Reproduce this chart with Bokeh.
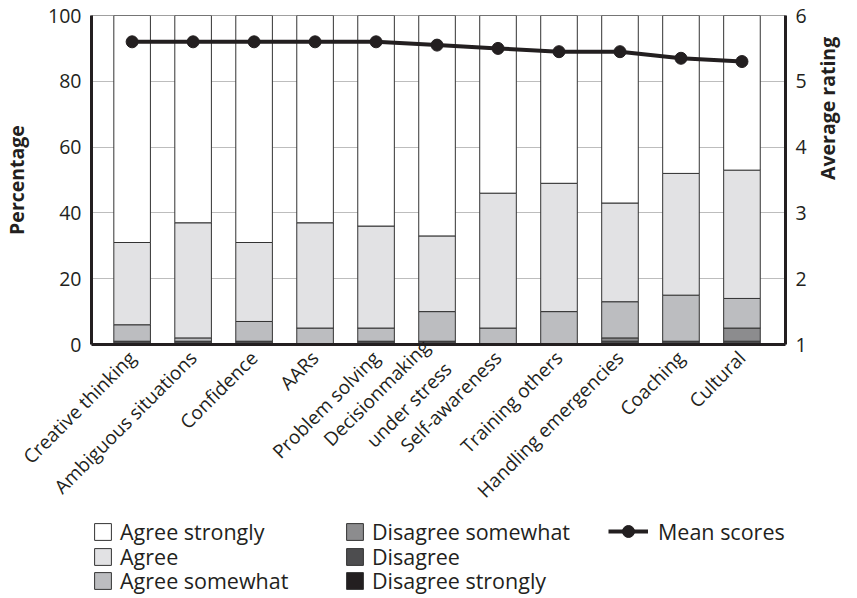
import math
from bokeh.plotting import figure
from bokeh.layouts import column
from bokeh.models import (Range1d, LinearAxis, FixedTicker, Legend, LegendItem,
                          ColumnDataSource)
from bokeh.embed import file_html
from bokeh.resources import INLINE

categories = ["Creative thinking", "Ambiguous situations", "Confidence", "AARs",
              "Problem solving", "Decisionmaking\nunder stress", "Self-awareness",
              "Training others", "Handling emergencies", "Coaching", "Cultural"]
disagree_strongly = [0, 0, 0, 0, 0, 0, 0, 0, 0, 0, 0]
disagree = [1, 1, 1, 0, 1, 1, 0, 0, 1, 1, 1]
disagree_somewhat = [0, 0, 0, 0, 0, 0, 0, 0, 1, 0, 4]
agree_somewhat = [5, 1, 6, 5, 4, 9, 5, 10, 11, 14, 9]
agree = [25, 35, 24, 32, 31, 23, 41, 39, 30, 37, 39]
agree_strongly = [69, 63, 69, 63, 64, 67, 54, 51, 57, 48, 47]
mean_scores = [5.6, 5.6, 5.6, 5.6, 5.6, 5.55, 5.5, 5.45, 5.45, 5.35, 5.3]

series_names = ["Disagree strongly", "Disagree", "Disagree somewhat",
                "Agree somewhat", "Agree", "Agree strongly"]
series_keys = ["ds", "d", "dsw", "asw", "a", "as_"]
series_colors = ["#231f20", "#4d4d4f", "#8c8c8e", "#bcbdc0", "#e2e2e4", "#ffffff"]
pct_ticks = [0, 20, 40, 60, 80, 100]
rating_ticks = [1, 2, 3, 4, 5, 6]

FONT = "Open Sans"
INK = "#231f20"
W = 857
H_MAIN = 515
H_LEG = 598 - H_MAIN

xs = list(range(len(categories)))
src = ColumnDataSource(dict(x=xs, ds=disagree_strongly, d=disagree,
                            dsw=disagree_somewhat, asw=agree_somewhat,
                            a=agree, as_=agree_strongly, mean=mean_scores))

p = figure(width=W, height=H_MAIN, output_backend="svg", toolbar_location=None,
           x_range=Range1d(-0.666, len(categories) - 1 + 0.714),
           y_range=Range1d(0, 100),
           min_border_left=88, min_border_right=68, min_border_top=15,
           min_border_bottom=H_MAIN - 344)
p.extra_y_ranges = {"rating": Range1d(1, 6)}

bars = p.vbar_stack(series_keys, x="x", width=0.6, source=src,
                    fill_color=series_colors, line_color="#333333", line_width=1)
line_r = p.line("x", "mean", source=src, y_range_name="rating",
                line_color=INK, line_width=4)
dot_r = p.scatter("x", "mean", source=src, y_range_name="rating", size=12,
                  fill_color=INK, line_color=INK)

p.xgrid.visible = False
p.ygrid.ticker = FixedTicker(ticks=[20, 40, 60, 80])
p.ygrid.grid_line_color = "#bdbdbd"
p.ygrid.grid_line_width = 1
p.outline_line_color = "#a0a0a0"
p.outline_line_width = 1

xa = p.xaxis[0]
xa.ticker = FixedTicker(ticks=xs)
xa.major_label_overrides = {i: c for i, c in enumerate(categories)}
xa.major_label_orientation = math.pi / 4
xa.major_label_text_font_size = "19px"
xa.major_label_standoff = 10

ya = p.yaxis[0]
ya.ticker = FixedTicker(ticks=pct_ticks)
ya.axis_label = "Percentage"
ya.axis_label_standoff = 15
ya.major_label_standoff = 10

ra = LinearAxis(y_range_name="rating", ticker=FixedTicker(ticks=rating_ticks),
                axis_label="Average rating")
ra.axis_label_standoff = 18
ra.major_label_standoff = 10
if "axis_label_orientation" in ra.properties():
    ra.axis_label_orientation = math.pi / 2
p.add_layout(ra, "right")

for ax in [xa, ya, ra]:
    ax.axis_line_width = 3
    ax.axis_line_color = INK
    ax.major_tick_out = 0
    ax.major_tick_in = 0
    ax.minor_tick_out = 0
    ax.minor_tick_in = 0
    ax.major_label_text_font = FONT
    ax.major_label_text_color = INK
    ax.axis_label_text_font = FONT
    ax.axis_label_text_font_style = "bold"
    ax.axis_label_text_font_size = "19.5px"
    ax.axis_label_text_color = INK
for ax in [ya, ra]:
    ax.major_label_text_font_size = "19.5px"

# legend panel (separate figure below the chart; its frame aligns with the chart's)
lf = figure(width=W, height=H_LEG, output_backend="svg", toolbar_location=None,
            x_axis_type=None, y_axis_type=None, min_border=0,
            x_range=Range1d(0, 1), y_range=Range1d(0, 1))
lf.outline_line_color = None
lf.xgrid.visible = False
lf.ygrid.visible = False

# legend proxies: one point each, outside the visible range
proxy = ColumnDataSource(dict(x=[-5], top=[-5], y=[-5]))
swatches = {}
for name, col in zip(series_names, series_colors):
    swatches[name] = lf.vbar(x="x", top="top", width=0.1, source=proxy,
                             fill_color=col, line_color="#333333", line_width=1)
leg_line = lf.line(x="x", y="y", source=proxy, line_color=INK, line_width=4)
leg_dot = lf.scatter(x="x", y="y", source=proxy, size=12,
                     fill_color=INK, line_color=INK)

legend_order = ["Agree strongly", "Agree", "Agree somewhat",
                "Disagree somewhat", "Disagree", "Disagree strongly"]
FRAME_LEFT = 88
col_x = [89 - FRAME_LEFT, 341 - FRAME_LEFT]
row_vy = [52, 27, 3]
common = dict(padding=0, margin=0, border_line_color=None,
              background_fill_alpha=0, label_height=17,
              spacing=0, label_text_font=FONT, label_text_font_size="21.5px",
              label_text_color=INK)
for k, name in enumerate(legend_order):
    c, r = divmod(k, 3)
    lg = Legend(items=[LegendItem(label=name, renderers=[swatches[name]])],
                location=(col_x[c], row_vy[r]), glyph_width=21,
                glyph_height=21, label_standoff=7, **common)
    lf.add_layout(lg, "center")
lg_mean = Legend(items=[LegendItem(label="Mean scores",
                                   renderers=[leg_line, leg_dot])],
                 location=(605 - FRAME_LEFT, row_vy[0]), glyph_width=40,
                 glyph_height=30, label_standoff=10, **common)
lf.add_layout(lg_mean, "center")

layout = column(p, lf, spacing=0)
open("out.html", "w").write(file_html(layout, INLINE))
